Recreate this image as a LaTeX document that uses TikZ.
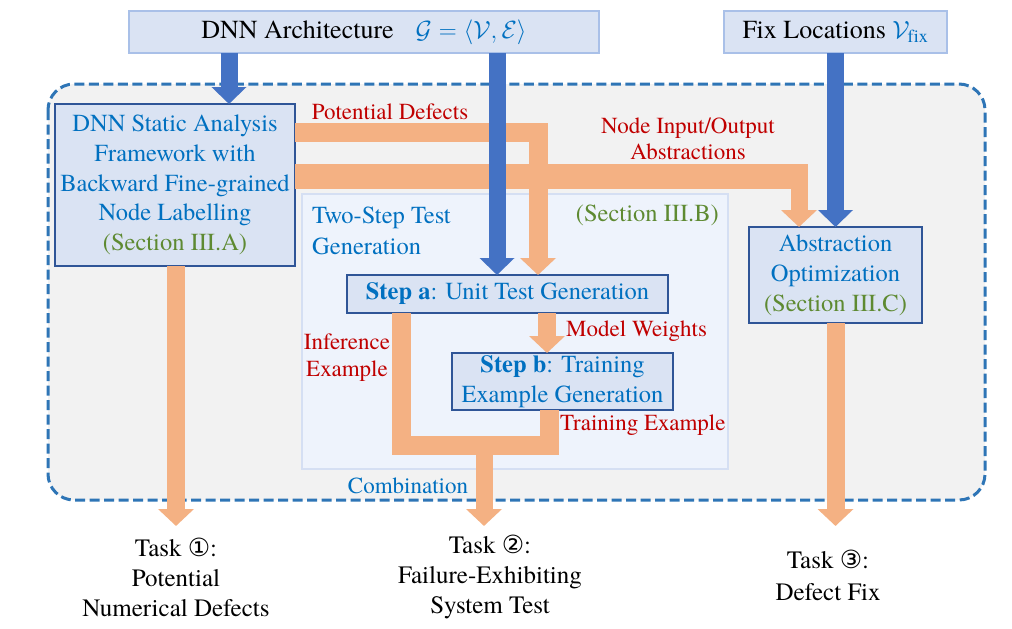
\documentclass[tikz,border=0pt]{standalone}
\usepackage{fontspec}
\setmainfont{texgyretermes}[Extension=.otf, UprightFont=*-regular, BoldFont=*-bold, ItalicFont=*-italic, BoldItalicFont=*-bolditalic]
\newfontfamily\symfont{DejaVu Sans}
\usetikzlibrary{arrows.meta}
\definecolor{boxfill}{HTML}{DAE3F3}
\definecolor{boxdraw}{HTML}{2F5597}
\definecolor{topdraw}{HTML}{A9C0E8}
\definecolor{bluearrow}{HTML}{4472C4}
\definecolor{orangearrow}{HTML}{F4B183}
\definecolor{redtxt}{HTML}{C00000}
\definecolor{bluetxt}{HTML}{0070C0}
\definecolor{greentxt}{HTML}{5E8A32}
\definecolor{outerfill}{HTML}{F2F2F2}
\definecolor{outerdraw}{HTML}{2E75B6}
\definecolor{innerfill}{HTML}{EEF3FC}
\definecolor{innerdraw}{HTML}{D5DFF3}
\tikzset{
 box/.style={draw=boxdraw, line width=2pt, fill=boxfill, inner sep=0pt, outer sep=0pt, align=center, text=bluetxt, font=\fontsize{24.5}{29.75}\selectfont},
 topbox/.style={draw=topdraw, line width=1.5pt, fill=boxfill, inner sep=0pt, outer sep=0pt, font=\fontsize{26}{30}\selectfont},
 redlbl/.style={text=redtxt, font=\fontsize{23}{26.5}\selectfont, inner sep=0pt, align=center},
 bluelbl/.style={text=bluetxt, font=\fontsize{24.5}{31}\selectfont, inner sep=0pt},
 greenlbl/.style={text=greentxt, font=\fontsize{24.5}{30}\selectfont, inner sep=0pt},
 bluearr/.style={draw=bluearrow, line width=17pt, -{Triangle[width=34pt,length=17pt]}},
 orangearr/.style={draw=orangearrow, line width=18pt, -{Triangle[width=35pt,length=17pt]}},
 orangeband/.style={draw=orangearrow, line width=19pt},
 tasklbl/.style={font=\fontsize{25}{30}\selectfont, align=center, inner sep=0pt}
}
\begin{document}
\begin{tikzpicture}[x=1pt,y=-1pt]
\useasboundingbox (0,0) rectangle (1012,629);
% outer dashed region
\draw[draw=outerdraw, fill=outerfill, line width=3pt, dash pattern=on 10pt off 4.5pt, rounded corners=26pt] (48,84) rectangle (985,500);
% two-step region
\draw[draw=innerdraw, fill=innerfill, line width=1.5pt] (302,194) rectangle (728,469);
% top boxes
\node[topbox, minimum width=470pt, minimum height=42pt] (arch) at (364,32)
  {DNN Architecture\hspace{22pt}\textcolor{bluetxt}{$\mathcal{G}=\langle\mathcal{V},\mathcal{E}\rangle$}};
\node[topbox, minimum width=223pt, minimum height=42pt] (fix) at (835.5,32)
  {Fix Locations \textcolor{bluetxt}{$\mathcal{V}_{\mathrm{fix}}$}};
% inner boxes
\node[box, minimum width=240pt, minimum height=162pt] (dnn) at (175,185)
  {DNN Static Analysis\\Framework with\\Backward Fine-grained\\Node Labelling\\{\color{greentxt}(Section III.A)}};
\node[box, minimum width=321pt, minimum height=38pt] (stepa) at (507.5,294)
  {\textbf{Step a}: Unit Test Generation};
\node[box, minimum width=221pt, minimum height=57pt, font=\fontsize{24.5}{30}\selectfont] (stepb) at (562.5,381.5)
  {\textbf{Step b}: Training\\Example Generation};
\node[box, minimum width=173pt, minimum height=96pt, font=\fontsize{24.5}{30}\selectfont] (abs) at (835.5,275)
  {Abstraction\\Optimization\\{\color{greentxt}(Section III.C)}};
% texts in regions
\node[bluelbl, anchor=west, align=left] (twostep) at (312,230.5) {Two-Step Test\\Generation};
\node[greenlbl, anchor=east] (secb) at (719,215) {(Section III.B)};
% labels
\node[redlbl] (pdlbl) at (390,112) {Potential Defects};
\node[redlbl] (niolbl) at (688,139) {Node Input/Output\\Abstractions};
\node[redlbl, anchor=west] (mwlbl) at (566,331) {Model Weights};
\node[redlbl, font=\fontsize{23}{27}\selectfont] (inflbl) at (347,357.5) {Inference\\Example};
\node[redlbl, anchor=west] (trlbl) at (560,425) {Training Example};
\node[bluelbl, font=\fontsize{23}{27}\selectfont] (comblbl) at (408,486) {Combination};
% task labels
\node[tasklbl] (task1) at (176,577) {Task {\symfont ①}:\\Potential\\Numerical Defects};
\node[tasklbl] (task2) at (490,577) {Task {\symfont ②}:\\Failure-Exhibiting\\System Test};
\node[tasklbl, font=\fontsize{25}{32}\selectfont] (task3) at (828,575) {Task {\symfont ③}:\\Defect Fix};
% coordinates
\coordinate (pdc) at (538,132);
\coordinate (nioc) at (799,164);
\coordinate (archb) at (497,0);
\coordinate (archa) at (229,0);
\coordinate (mwc) at (547,0);
\coordinate (infc) at (401,445);
\coordinate (trc) at (549,445);
\coordinate (combc) at (484,445);
\coordinate (tip1) at (176,526);
\coordinate (tip2) at (484,526);
\coordinate (tip3) at (835.5,526);
% orange connectors
\draw[orangeband, line width=25pt] (dnn.east |- 0,176.5) -- (807.5,176.5);
\draw[orangearr, line width=17pt] (nioc) -- (nioc |- abs.north);
\draw[orangearr, line width=19pt] (pdc -| dnn.east) -- (pdc) -- (pdc |- stepa.north);
\draw[orangearr] (mwc |- stepa.south) -- (mwc |- stepb.north);
\draw[orangeband] (infc |- stepa.south) -- (infc) -- (trc) -- (trc |- stepb.south);
\draw[orangearr, line width=17pt] (combc) -- (tip2);
\draw[orangearr] (tip1 |- dnn.south) -- (tip1);
\draw[orangearr] (tip3 |- abs.south) -- (tip3);
% blue connectors
\draw[bluearr] (archa |- arch.south) -- (archa |- dnn.north);
\draw[bluearr] (archb |- arch.south) -- (archb |- stepa.north);
\draw[bluearr] (fix.south) -- (abs.north);
\end{tikzpicture}
\end{document}
